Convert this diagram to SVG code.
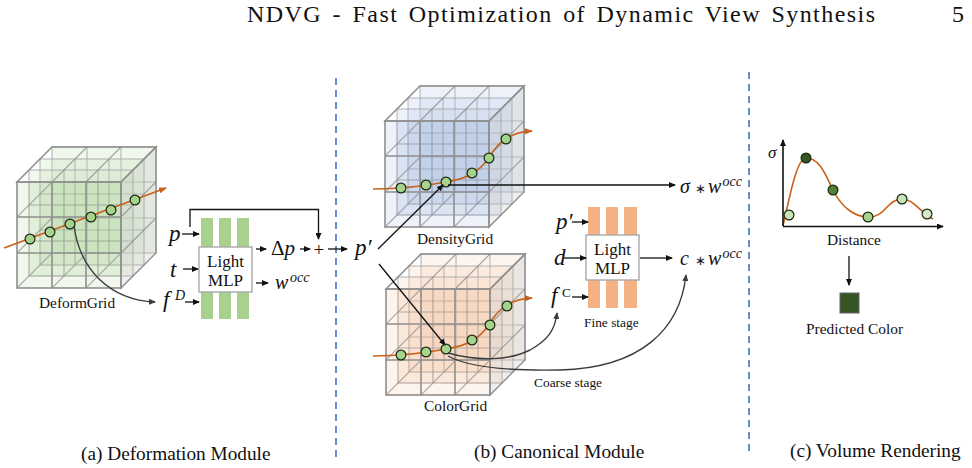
<svg xmlns="http://www.w3.org/2000/svg" xmlns:xlink="http://www.w3.org/1999/xlink" width="972" height="468" viewBox="0 0 972 468">
<style>
text{font-family:"Liberation Serif",serif;fill:#111}
.h{font-size:24px}
.cap{font-size:19.3px}
.lb{font-size:15.4px}
.sm{font-size:13.4px}
.mlp{font-size:17px;text-anchor:middle}
.m{font-size:23px;font-style:italic}
.w{font-size:20px;font-style:italic}
.sup{font-size:14px;font-style:italic}
.st{font-size:13px}
.g{fill:none;stroke:#8a8a8a;stroke-width:1.2;stroke-opacity:.75}
.gf{stroke:#8f8f8f;stroke-width:1.6}
.sd{fill:#d8d8d8;fill-opacity:.4;stroke:#8f8f8f;stroke-width:1.4}
.ray{fill:none;stroke:#c8611c;stroke-width:1.6}
.c{fill:none;stroke:#111;stroke-width:1.3}
.ax{fill:none;stroke:#111;stroke-width:1.6}
.cv{fill:none;stroke:#3c3c3c;stroke-width:1.4}
.dash{stroke:#4472c4;stroke-width:1.6;stroke-dasharray:7 5}
.pt{fill:#a6d38a;stroke:#1a2a12;stroke-width:1.2}
.box{fill:#fff;stroke:#a8a8a8;stroke-width:1.4}
.gb{fill:#a9d18e}
.ob{fill:#f4b183}
</style>
<defs>
<marker id="a" markerWidth="7" markerHeight="6" refX="6" refY="3" orient="auto" markerUnits="userSpaceOnUse"><path d="M0 0L7 3L0 6z" fill="#111"/></marker>
<marker id="ag" markerWidth="7" markerHeight="6" refX="6" refY="3" orient="auto" markerUnits="userSpaceOnUse"><path d="M0 0L7 3L0 6z" fill="#3c3c3c"/></marker>
<marker id="ao" markerWidth="8" markerHeight="6" refX="7" refY="3" orient="auto" markerUnits="userSpaceOnUse"><path d="M0 0L8 3L0 6z" fill="#c8611c"/></marker>
<g id="layer">
<rect width="104" height="106" class="g" style="fill:inherit;fill-opacity:.28"/>
<path class="g" d="M35 0V106M69 0V106M0 35H104M0 71H104"/>
</g>
<g id="cube">
<use xlink:href="#layer" x="35" y="-35"/>
<use xlink:href="#layer" x="23" y="-23"/>
<use xlink:href="#layer" x="12" y="-12"/>
<path class="sd" d="M104 0L139 -35V71L104 106z"/>
<path class="gf" fill="#fff" fill-opacity=".25" d="M0 0L35 -35H139L104 0z"/>
<path class="g" d="M35 0L70 -35M69 0L104 -35M104 35L139 0M104 71L139 36M0 35L35 0M0 71L35 36M35 106L70 71M69 106L104 71M0 106L35 71"/>
<rect width="104" height="106" class="gf" style="fill:inherit;fill-opacity:.2"/>
<path class="gf" d="M35 0V106M69 0V106M0 35H104M0 71H104" fill="none"/>
</g>
</defs>

<g id="header">
<text class="h" x="247" y="22" textLength="628" lengthAdjust="spacing" word-spacing="3">NDVG - Fast Optimization of Dynamic View Synthesis</text>
<text class="h" x="952" y="22">5</text>
</g>

<g id="dividers">
<line class="dash" x1="336" y1="78" x2="336" y2="460"/>
<line class="dash" x1="749" y1="72" x2="749" y2="455"/>
</g>

<g id="deform-grid" fill="#b7d6a5">
<use xlink:href="#cube" x="17" y="182"/>
<path class="ray" marker-end="url(#ao)" d="M4 248L166 188"/>
<circle class="pt" cx="30" cy="239" r="4.9"/><circle class="pt" cx="50" cy="232" r="4.9"/><circle class="pt" cx="70" cy="224" r="4.9"/><circle class="pt" cx="91" cy="217" r="4.9"/><circle class="pt" cx="111" cy="210" r="4.9"/><circle class="pt" cx="135" cy="200" r="4.9"/>
<text class="lb" x="39" y="308">DeformGrid</text>
</g>

<g id="density-grid" fill="#a9bfe3">
<use xlink:href="#cube" x="385" y="121"/>
<path class="ray" marker-end="url(#ao)" d="M373 189C395 189 420 187 446 182C470 178 478 172 489 158C497 142 510 132 532 131"/>
<circle class="pt" cx="401" cy="188" r="4.9"/><circle class="pt" cx="426" cy="185" r="4.9"/><circle class="pt" cx="446" cy="182" r="4.9"/><circle class="pt" cx="472" cy="173" r="4.9"/><circle class="pt" cx="489" cy="158" r="4.9"/><circle class="pt" cx="506" cy="139" r="4.9"/>
<text class="lb" x="417" y="244">DensityGrid</text>
</g>

<g id="color-grid" fill="#f6c9a8">
<use xlink:href="#cube" x="386" y="289"/>
<path class="ray" marker-end="url(#ao)" d="M373 356C395 356 420 354 446 349C470 345 478 339 489 325C497 309 510 299 532 298"/>
<circle class="pt" cx="401" cy="355" r="4.9"/><circle class="pt" cx="426" cy="352" r="4.9"/><circle class="pt" cx="446" cy="349" r="4.9"/><circle class="pt" cx="472" cy="340" r="4.9"/><circle class="pt" cx="490" cy="325" r="4.9"/><circle class="pt" cx="507" cy="306" r="4.9"/>
<text class="lb" x="424" y="411">ColorGrid</text>
</g>

<g id="light-mlp-a">
<rect class="gb" x="201" y="218" width="12" height="101"/><rect class="gb" x="219" y="218" width="12" height="101"/><rect class="gb" x="237" y="218" width="12" height="101"/>
<rect class="box" x="199" y="247" width="53" height="45"/>
<text class="mlp" x="225.500" y="267">Light</text><text class="mlp" x="225.500" y="286">MLP</text>
</g>

<g id="light-mlp-b">
<rect class="ob" x="588" y="207" width="12" height="101"/><rect class="ob" x="606" y="207" width="12" height="101"/><rect class="ob" x="624" y="207" width="13" height="101"/>
<rect class="box" x="586" y="235" width="53" height="45"/>
<text class="mlp" x="612.500" y="255">Light</text><text class="mlp" x="612.500" y="274">MLP</text>
</g>

<g id="volume-render">
<path class="ray" d="M783 226C790 195 797 158 806 158C820 158 826 176 833 190C842 208 855 217 868 217C885 218 887 199 902 199C913 199 918 210 933 219"/>
<circle class="pt" style="fill:#c8e2b8" cx="789" cy="215" r="4.900"/><circle class="pt" style="fill:#375623" cx="806" cy="158" r="4.900"/><circle class="pt" style="fill:#548235" cx="833" cy="190" r="4.900"/><circle class="pt" style="fill:#a9d18e" cx="868" cy="217" r="4.900"/><circle class="pt" style="fill:#c8e2b8" cx="902" cy="199" r="4.900"/><circle class="pt" style="fill:#d5e8c8" cx="927" cy="214" r="4.900"/>
<text class="lb" x="827" y="245">Distance</text>
<text class="sup" x="768" y="158" style="font-size:17px">σ</text>
<rect x="840" y="293" width="19" height="20" fill="#375623" stroke="#666" stroke-width="1"/>
<text class="lb" x="806" y="334">Predicted Color</text>
</g>

<g id="labels-math">
<text class="m" x="169" y="241">p</text>
<text class="m" x="170" y="277">t</text>
<text class="m" x="163" y="307">f</text><text class="sup" x="175" y="300">D</text>
<text class="m" x="271" y="255" style="font-style:normal;font-size:21px">Δ<tspan font-style="italic">p</tspan></text>
<text x="313.500" y="256" style="font-size:19px">+</text>
<text class="w" x="275" y="289">w</text><text class="sup" x="290" y="282">occ</text>
<text class="m" x="355" y="255">p′</text>
<text class="w" x="680" y="193">σ</text><text x="695" y="193" style="font-size:13px">∗</text><text class="w" x="708" y="193">w</text><text class="sup" x="722.500" y="186">occ</text>
<text class="w" x="680" y="265">c</text><text x="695" y="265" style="font-size:13px">∗</text><text class="w" x="708" y="265">w</text><text class="sup" x="722.500" y="258">occ</text>
<text class="m" x="556" y="229">p′</text>
<text class="m" x="554" y="265">d</text>
<text class="m" x="551" y="303">f</text><text class="st" x="562" y="297">C</text>
<text class="sm" x="584" y="327">Fine stage</text>
<text class="sm" x="534" y="387">Coarse stage</text>
</g>

<g id="connectors">
<path class="c" marker-end="url(#a)" d="M190 227V209.500H318.500V239"/>
<path class="c" marker-end="url(#a)" d="M182 234H199"/>
<path class="c" marker-end="url(#a)" d="M183 269H198"/>
<path class="c" marker-end="url(#a)" d="M185 302H199"/>
<path class="c" marker-end="url(#a)" d="M256 249H266"/>
<path class="c" marker-end="url(#a)" d="M256 283H268"/>
<path class="c" marker-end="url(#a)" d="M300 249H310"/>
<path class="c" marker-end="url(#a)" d="M328 249H347"/>
<path class="cv" marker-end="url(#ag)" d="M74 226C80 270 110 300 155 302"/>
<path class="c" marker-end="url(#a)" d="M378 249L443 185"/>
<path class="c" marker-end="url(#a)" d="M379 264L445 345"/>
<path class="c" marker-end="url(#a)" d="M448 185H675"/>
<path class="c" marker-end="url(#a)" d="M572 222H588"/>
<path class="c" marker-end="url(#a)" d="M563 258H586"/>
<path class="c" marker-end="url(#a)" d="M572 297H588"/>
<path class="c" marker-end="url(#a)" d="M640 258H672"/>
<path class="cv" marker-end="url(#ag)" d="M448 353C480 362 510 360 530 350C548 340 555 330 557 313"/>
<path class="cv" marker-end="url(#ag)" d="M448 356C470 368 510 371 560 370C640 368 680 330 686 275"/>
<path class="ax" marker-end="url(#a)" d="M783 226V140"/>
<path class="ax" marker-end="url(#a)" d="M783 226.500H943"/>
<path class="c" marker-end="url(#a)" d="M849 256V285"/>
</g>

<g id="captions">
<text class="cap" x="81" y="460">(a) Deformation Module</text>
<text class="cap" x="474" y="458">(b) Canonical Module</text>
<text class="cap" x="790" y="457">(c) Volume Rendering</text>
</g>
</svg>
